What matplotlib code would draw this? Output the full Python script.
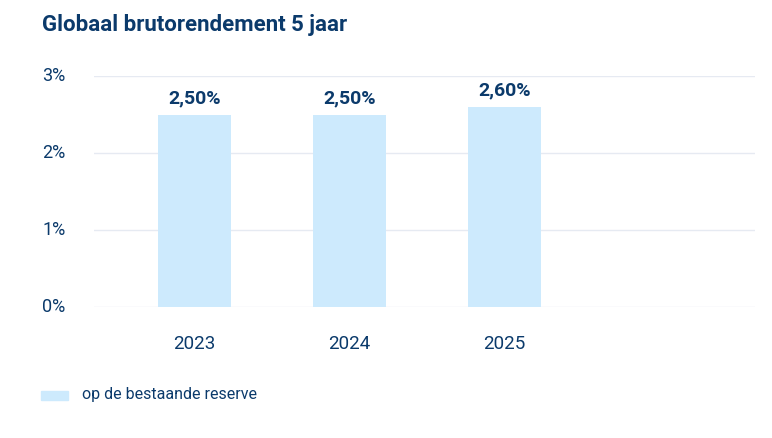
import matplotlib.pyplot as plt
from matplotlib.patches import Rectangle

plt.rcParams['font.family'] = ['Roboto', 'DejaVu Sans']

years = ['2023', '2024', '2025']
values = [2.50, 2.50, 2.60]
labels = ['2,50%', '2,50%', '2,60%']
yticks = [0, 1, 2, 3]
ytick_labels = ['0%', '1%', '2%', '3%']

navy = '#0b3a6b'
bar_color = '#cdeafd'
grid_color = '#e6eaf2'

fig = plt.figure(figsize=(7.72, 4.38), dpi=100)
W, H = 772, 438
ax = fig.add_axes([94 / W, 1 - 307 / H, (755 - 94) / W, (307 - 76) / H])

x = list(range(len(years)))
ax.bar(x, values, width=0.47, color=bar_color, zorder=2)
for xi, v, lab in zip(x, values, labels):
    ax.text(xi, v + 0.09, lab, ha='center', va='bottom', fontsize=14,
            fontweight='bold', color=navy)

ax.set_xlim((94 - 194.5) / 155, (755 - 194.5) / 155)
ax.set_ylim(0, 3)
ax.set_yticks(yticks)
ax.set_yticklabels([])
for t, lab in zip(yticks, ytick_labels):
    ax.text(42 / W, 1 - (307 - t * 77) / H, lab, transform=fig.transFigure,
            ha='left', va='center', fontsize=13, color=navy)
ax.set_xticks(x)
ax.set_xticklabels(years, fontsize=13.5, color=navy)
ax.tick_params(axis='x', length=0, pad=20)
ax.tick_params(axis='y', length=0)
ax.grid(axis='y', color=grid_color, linewidth=1, zorder=0)
for s in ax.spines.values():
    s.set_visible(False)

fig.text(42 / W, 1 - 25 / H, 'Globaal brutorendement 5 jaar', ha='left',
         va='center', fontsize=16, fontweight='bold', color=navy)

fig.patches.append(Rectangle((41 / W, 1 - 400 / H), 27 / W, 9 / H,
                             transform=fig.transFigure, color=bar_color))
fig.text(82 / W, 1 - 395 / H, 'op de bestaande reserve', ha='left',
         va='center', fontsize=11.5, color=navy)

fig.savefig('out.png', dpi=100)
